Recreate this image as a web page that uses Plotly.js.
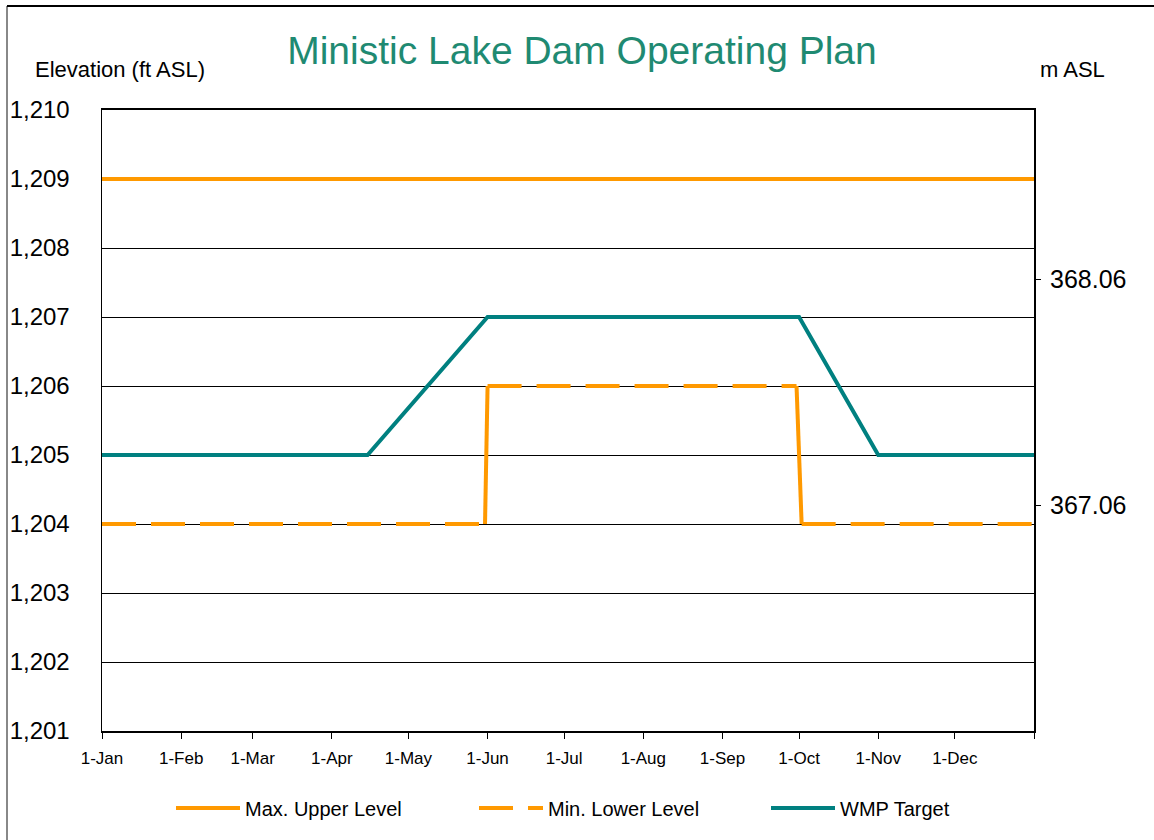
<!DOCTYPE html>
<html>
<head>
<meta charset="utf-8">
<script src="https://cdn.plot.ly/plotly-3.0.1.min.js"></script>
<style>
html,body{margin:0;padding:0;background:#fff;}
#chart{width:1154px;height:840px;}
</style>
</head>
<body>
<div id="chart"></div>
<script>
// ---- data ----
const maxDates = ['2015-01-01', '2016-01-01'];
const maxLevel = [1209, 1209];

const minDates = ['2015-01-01', '2015-05-31', '2015-06-01', '2015-09-30', '2015-10-02', '2016-01-01'];
const minLevel = [1204, 1204, 1206, 1206, 1204, 1204];

const wmpDates = ['2015-01-01', '2015-04-15', '2015-06-01', '2015-10-01', '2015-11-01', '2016-01-01'];
const wmpLevel = [1205, 1205, 1207, 1207, 1205, 1205];

const monthTicks = ['2015-01-01','2015-02-01','2015-03-01','2015-04-01','2015-05-01','2015-06-01',
  '2015-07-01','2015-08-01','2015-09-01','2015-10-01','2015-11-01','2015-12-01','2016-01-01'];
const monthLabels = ['1-Jan','1-Feb','1-Mar','1-Apr','1-May','1-Jun','1-Jul','1-Aug','1-Sep','1-Oct','1-Nov','1-Dec',''];

const ftRange = [1201, 1210];
const FT_TO_M = 0.3048;

const ORANGE = '#FF9900';
const TEAL = '#008080';
const FONT = 'Liberation Sans, Arial, sans-serif';

// Min. Lower Level drawn segment by segment (dash pattern restarts per segment, step risers solid)
const minTraces = [];
for (let i = 0; i < minDates.length - 1; i++) {
  const riser = minLevel[i] !== minLevel[i + 1];
  minTraces.push({
    x: minDates.slice(i, i + 2), y: minLevel.slice(i, i + 2),
    name: 'Min. Lower Level', type: 'scatter', mode: 'lines', legend: 'legend2',
    legendgroup: 'min', showlegend: i === 0,
    line: {color: ORANGE, width: 4, dash: riser ? 'solid' : '34px,15px'}
  });
}

const traces = [
  {x: maxDates, y: maxLevel, name: 'Max. Upper Level', type: 'scatter', mode: 'lines', legend: 'legend',
   line: {color: ORANGE, width: 4}},
  {x: wmpDates, y: wmpLevel, name: 'WMP Target', type: 'scatter', mode: 'lines', legend: 'legend3',
   line: {color: TEAL, width: 4}},
  ...minTraces,
  // invisible trace to activate right axis (metres)
  {x: maxDates, y: [ftRange[0]*FT_TO_M, ftRange[0]*FT_TO_M], yaxis: 'y2', type: 'scatter', mode: 'lines',
   line: {width: 0}, showlegend: false, hoverinfo: 'skip'}
];

function legendAt(px) {
  return {orientation: 'h', x: (px - 6 - 102)/932, xanchor: 'left', y: (731-808)/621, yanchor: 'middle',
          font: {family: FONT, size: 20, color: '#000'}, itemwidth: 64, bgcolor: 'rgba(0,0,0,0)'};
}

const layout = {
  width: 1154, height: 840,
  margin: {l: 102, r: 120, t: 110, b: 109},
  paper_bgcolor: '#ffffff', plot_bgcolor: '#ffffff',
  font: {family: FONT, color: '#000000'},
  title: {text: 'Ministic Lake Dam Operating Plan', font: {family: FONT, size: 39, color: '#1f8a72'},
          xref: 'container', yref: 'container', x: 0.5043, xanchor: 'center', y: 1 - 50/840, yanchor: 'middle'},
  showlegend: true,
  legend: legendAt(177),
  legend2: legendAt(480),
  legend3: legendAt(772),
  xaxis: {type: 'date', range: ['2015-01-01', '2016-01-01'], tickmode: 'array',
          tickvals: monthTicks, ticktext: monthLabels, ticks: 'outside', ticklen: 6, tickcolor: '#000',
          tickwidth: 1, showgrid: false, showline: true, linecolor: '#000', linewidth: 2, mirror: true,
          tickfont: {family: FONT, size: 17, color: '#000'}, ticklabelstandoff: 5, zeroline: false},
  yaxis: {range: ftRange, dtick: 1, tickformat: ',d', showgrid: true, gridcolor: '#000', gridwidth: 1,
          showline: true, linecolor: '#000', linewidth: 1.5, mirror: true, ticks: '',
          tickfont: {family: FONT, size: 24, color: '#000'}, ticklabelstandoff: 26, zeroline: false},
  yaxis2: {overlaying: 'y', side: 'right', range: [ftRange[0]*FT_TO_M, ftRange[1]*FT_TO_M],
           tick0: 366.06, dtick: 1, tickformat: '.2f', showgrid: false, zeroline: false,
           ticks: 'outside', ticklen: 6, tickcolor: '#000', showline: false,
           tickfont: {family: FONT, size: 25, color: '#000'}, ticklabelstandoff: 4},
  annotations: [
    {text: 'Elevation (ft ASL)', xref: 'paper', yref: 'paper', x: (33-102)/932, xanchor: 'left',
     y: (731-70)/621, yanchor: 'middle', showarrow: false, font: {family: FONT, size: 22, color: '#000'}},
    {text: 'm ASL', xref: 'paper', yref: 'paper', x: (1038-102)/932, xanchor: 'left',
     y: (731-70)/621, yanchor: 'middle', showarrow: false, font: {family: FONT, size: 22, color: '#000'}}
  ],
  shapes: [
    {type: 'line', xref: 'paper', yref: 'paper', x0: (7-102)/932, x1: (7-102)/932, y0: (731-6)/621, y1: (731-850)/621,
     line: {color: '#888888', width: 2}},
    {type: 'line', xref: 'paper', yref: 'paper', x0: (7-102)/932, x1: (1160-102)/932, y0: (731-6)/621, y1: (731-6)/621,
     line: {color: '#000000', width: 2}}
  ]
};

Plotly.newPlot('chart', traces, layout, {displayModeBar: false, staticPlot: true});
</script>
</body>
</html>
